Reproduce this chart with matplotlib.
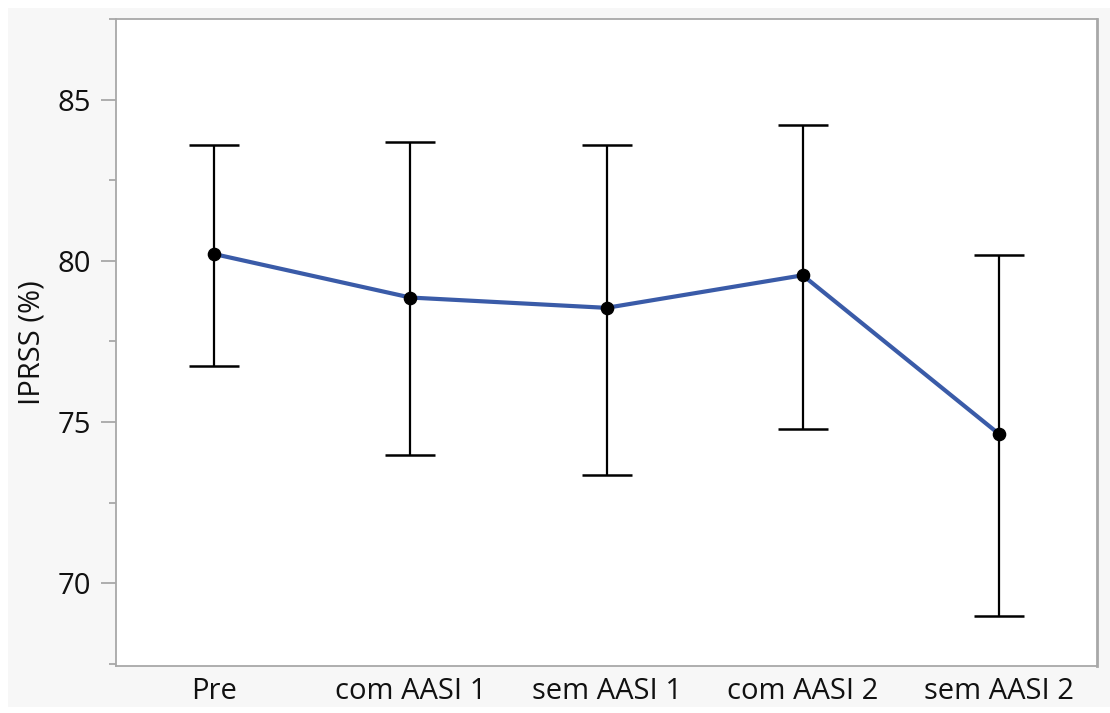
import matplotlib
matplotlib.use("Agg")
import matplotlib.pyplot as plt
from matplotlib.patches import Rectangle
from matplotlib.ticker import MultipleLocator

# Mean IPRSS per condition with lower/upper interval limits
categories = ["Pre", "com AASI 1", "sem AASI 1", "com AASI 2", "sem AASI 2"]
means = [80.21, 78.86, 78.54, 79.55, 74.63]
lower = [76.74, 73.98, 73.37, 74.79, 68.98]
upper = [83.60, 83.69, 83.60, 84.21, 80.19]
y_ticks = [70, 75, 80, 85]

plt.rcParams["font.family"] = ["Open Sans", "DejaVu Sans"]
FS = 21

fig = plt.figure(figsize=(11.10, 7.13), dpi=100)
fig.patch.set_facecolor("white")
# light grey panel behind the plot
fig.patches.append(Rectangle((8 / 1110, 6 / 713), 1 - 8 / 1110, 1 - 14 / 713,
                             transform=fig.transFigure, facecolor="#f7f7f7",
                             edgecolor="none", zorder=-10))

ax = fig.add_axes([116 / 1110, 1 - 666 / 713, (1097 - 116) / 1110, (666 - 19) / 713])
ax.set_zorder(1)
ax.set_facecolor("white")

x = list(range(len(categories)))
err_lo = [m - lo for m, lo in zip(means, lower)]
err_hi = [hi - m for m, hi in zip(means, upper)]

ax.errorbar(x, means, yerr=[err_lo, err_hi], fmt="none", ecolor="black",
            elinewidth=1.6, capsize=18, capthick=1.8, zorder=2)
ax.plot(x, means, color="#3a5ba8", lw=3.0, zorder=3)
ax.plot(x, means, "o", color="black", ms=8.8, zorder=4)

ax.set_xlim(-0.5, 4.5)
ax.set_ylim(67.43, 87.5)
ax.set_xticks(x)
ax.set_xticklabels(categories)
ax.set_yticks(y_ticks)
ax.yaxis.set_minor_locator(MultipleLocator(2.5))

for s in ax.spines.values():
    s.set_color("#a8a8a8")
    s.set_linewidth(1.3)
ax.spines["right"].set_linewidth(2.0)

ax.tick_params(axis="y", which="major", length=11, width=1.3, color="#a8a8a8",
               labelsize=FS, labelcolor="#111111", pad=7)
ax.tick_params(axis="y", which="minor", length=5, width=1.3, color="#a8a8a8")
ax.tick_params(axis="x", which="both", length=0, labelsize=FS,
               labelcolor="#111111", pad=8)

ax.set_ylabel("IPRSS (%)", fontsize=FS, color="#111111", labelpad=8)

fig.savefig("out.png", dpi=100, facecolor=fig.get_facecolor())
